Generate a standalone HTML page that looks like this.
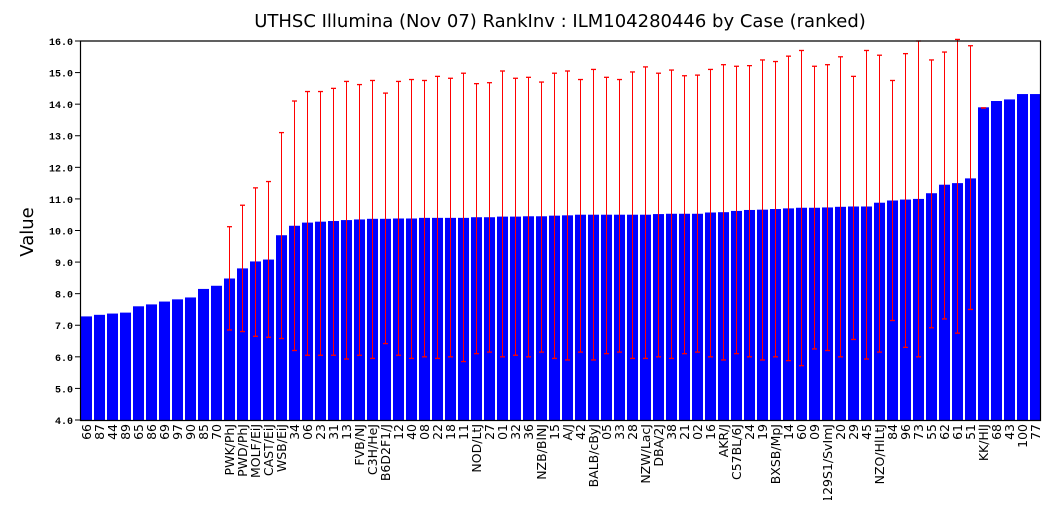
<!DOCTYPE html>
<html><head><meta charset="utf-8"><style>body{margin:0;background:#fff}</style></head>
<body>
<svg id="c" width="1060" height="500" xmlns="http://www.w3.org/2000/svg" style="font-family:'DejaVu Sans','Liberation Sans',sans-serif"></svg>
<script>
const d=[["66",7.28],["87",7.33],["44",7.37],["89",7.40],["65",7.6],["86",7.66],["69",7.75],["97",7.82],["90",7.88],["85",8.15],["70",8.25],
["PWK/PhJ",8.48,10.12,6.85],["PWD/PhJ",8.8,10.8,6.8],["MOLF/EiJ",9.02,11.35,6.65],["CAST/EiJ",9.08,11.55,6.62],["WSB/EiJ",9.85,13.1,6.58],
["34",10.15,14.1,6.2],["06",10.25,14.4,6.05],["23",10.28,14.4,6.05],["31",10.3,14.5,6.05],["13",10.33,14.72,5.93],["FVB/NJ",10.35,14.62,6.05],["C3H/HeJ",10.37,14.75,5.95],["B6D2F1/J",10.37,14.35,6.42],
["12",10.38,14.72,6.05],["40",10.38,14.78,5.95],["08",10.4,14.75,6.0],["22",10.4,14.88,5.95],["18",10.4,14.82,6.0],["11",10.4,14.98,5.85],["NOD/LtJ",10.42,14.65,6.1],["27",10.42,14.68,6.15],["01",10.44,15.05,6.0],["32",10.44,14.82,6.05],["36",10.45,14.85,6.0],["NZB/BlNJ",10.45,14.7,6.15],["15",10.47,14.98,5.95],["A/J",10.48,15.05,5.9],["42",10.5,14.78,6.15],["BALB/cByJ",10.5,15.1,5.9],["05",10.5,14.85,6.1],["33",10.5,14.78,6.15],["28",10.5,15.02,5.95],["NZW/LacJ",10.5,15.18,5.95],["DBA/2J",10.52,14.98,6.0],["38",10.53,15.08,5.95],["21",10.53,14.9,6.1],["02",10.53,14.92,6.15],["16",10.57,15.1,6.0],["AKR/J",10.58,15.25,5.9],["C57BL/6J",10.62,15.2,6.1],["24",10.65,15.22,6.0],["19",10.66,15.4,5.9],["BXSB/MpJ",10.68,15.35,6.0],["14",10.7,15.52,5.88],["60",10.72,15.7,5.72],["09",10.72,15.2,6.25],["129S1/SvImJ",10.73,15.25,6.2],["20",10.75,15.5,6.0],["29",10.76,14.88,6.55],["45",10.76,15.7,5.93],["NZO/HlLtJ",10.88,15.55,6.15],["84",10.95,14.75,7.15],["96",10.98,15.6,6.3],["73",11.0,16.0,6.0],["55",11.18,15.4,6.92],["62",11.45,15.65,7.2],["61",11.5,16.05,6.75],["51",11.65,15.85,7.5],
["KK/HlJ",13.9,13.88,13.88],["68",14.1],["43",14.15],["100",14.32],["77",14.32]];
const Y=v=>41+(16-v)*31.583;
let s='<text x="560" y="27" text-anchor="middle" font-size="18">UTHSC Illumina (Nov 07) RankInv : ILM104280446 by Case (ranked)</text>';
s+='<text transform="translate(33,232) rotate(-90)" text-anchor="middle" font-size="18">Value</text>';
for(let v=4;v<=16;v++){const y=Y(v);s+=`<line x1="75" x2="80" y1="${y}" y2="${y}" stroke="#000"/><text x="73" y="${y+4}" text-anchor="end" font-size="10" font-family="Liberation Mono,monospace" font-weight="bold">${v.toFixed(1)}</text>`;}
d.forEach((b,i)=>{const x=81+13*i;const y=Y(b[1]);s+=`<rect x="${x}" y="${y}" width="11" height="${420-y}" fill="#0000ff"/>`;
if(b[2]!==undefined){const cx=x+5.5;s+=`<g stroke="#f00" stroke-width="1"><line x1="${cx}" x2="${cx}" y1="${Y(b[2])}" y2="${Y(b[3])}"/><line x1="${cx-2.5}" x2="${cx+2.5}" y1="${Y(b[2])}" y2="${Y(b[2])}" stroke-width="1.3"/><line x1="${cx-2.5}" x2="${cx+2.5}" y1="${Y(b[3])}" y2="${Y(b[3])}" stroke-width="1.3"/></g>`;}
s+=`<text transform="translate(${x+10},424) rotate(-90)" text-anchor="end" font-size="12.5">${b[0]}</text>`;});
s+='<path d="M80.5 41 H1040.5 V420.5 H80.5 Z" fill="none" stroke="#000" stroke-width="1.2"/>';
document.getElementById('c').innerHTML=s;
</script>
</body></html>
